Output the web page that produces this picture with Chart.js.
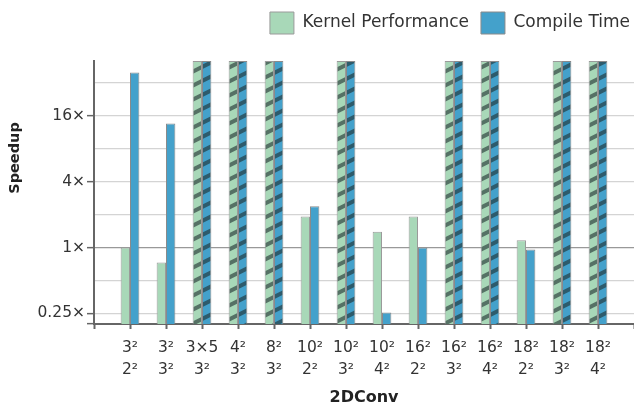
<!DOCTYPE html>
<html>
<head>
<meta charset="utf-8">
<script src="https://cdn.jsdelivr.net/npm/chart.js@4"></script>
<style>
  html, body { margin: 0; padding: 0; background: #fff; }
  #wrap { width: 634px; height: 405px; }
</style>
</head>
<body>
<div id="wrap"><canvas id="speedupChart"></canvas></div>
<script>
// kernel shapes (input / filter)
var categories = [
    ['3²', '2²'], ['3²', '3²'], ['3×5', '3²'], ['4²', '3²'], ['8²', '3²'],
    ['10²', '2²'], ['10²', '3²'], ['10²', '4²'], ['16²', '2²'], ['16²', '3²'],
    ['16²', '4²'], ['18²', '2²'], ['18²', '3²'], ['18²', '4²']
];
// null = off the top of the chart (hatched bars)
var kernelPerf  = [1.0, 0.73, null, null, null, 1.93, null, 1.40, 1.93, null, null, 1.17, null, null];
var compileTime = [40, 13.7, null, null, null, 2.39, null, 0.255, 1.0, null, null, 0.96, null, null];
var offChart    = [false, false, true, true, true, false, true, false, false, true, true, false, true, true];

var yTickValues = [0.2, 0.25, 0.5, 1, 2, 4, 8, 16, 32];
var yTickLabels = ['', '0.25×', '', '1×', '', '4×', '', '16×', ''];
var Y_MIN = 0.2, Y_MAX = 51;

var FONT = 'DejaVu Sans';

function makeHatch(color) {
    var c = document.createElement('canvas');
    c.width = 28; c.height = 14;
    var g = c.getContext('2d');
    g.fillStyle = color;
    g.fillRect(0, 0, 28, 14);
    g.strokeStyle = 'rgba(30, 45, 45, 0.6)';
    g.lineWidth = 4;
    for (var k = -1; k <= 2; k++) {
        g.beginPath();
        g.moveTo(-2, 14 * k + 1 + 14);
        g.lineTo(30, 14 * k - 15 + 14);
        g.stroke();
    }
    return g.createPattern(c, 'repeat');
}

// empty slot at both ends so the groups sit away from the axis ends
function pad(arr) { return [null].concat(arr, [null]); }
var labels = [''].concat(categories, ['']);
var kernelDrawn = pad(kernelPerf.map(function (v, i) { return offChart[i] ? Y_MAX : v; }));
var compileDrawn = pad(compileTime.map(function (v, i) { return offChart[i] ? Y_MAX : v; }));
var offPadded = pad(offChart);

var green = '#a8d8b8', blue = '#44a1cb';
var greenHatch = makeHatch(green), blueHatch = makeHatch(blue);

var yTitlePlugin = {
    id: 'yTitle',
    afterInit: function (chart) {
        var lg = chart.legend;
        var fit = lg.fit;
        lg.fit = function () { fit.call(this); this.height += 17; };
    },
    afterLayout: function (chart) {
        chart.legend.right = chart.width + 8;
    },
    afterDraw: function (chart) {
        var ctx = chart.ctx;
        ctx.save();
        ctx.translate(15, 158);
        ctx.rotate(-Math.PI / 2);
        ctx.font = 'bold 14.5px "' + FONT + '"';
        ctx.fillStyle = '#222';
        ctx.textAlign = 'center';
        ctx.textBaseline = 'middle';
        ctx.fillText('Speedup', 0, 0);
        ctx.restore();
    }
};

var ctx = document.getElementById('speedupChart');
var speedupChart = new Chart(ctx, {
    type: 'bar',
    data: {
        labels: labels,
        datasets: [
            {
                label: 'Kernel Performance',
                data: kernelDrawn,
                backgroundColor: function (c) { return offPadded[c.dataIndex] ? greenHatch : green; },
                borderColor: '#9a9a9a',
                borderWidth: 1
            },
            {
                label: 'Compile Time',
                data: compileDrawn,
                backgroundColor: function (c) { return offPadded[c.dataIndex] ? blueHatch : blue; },
                borderColor: '#8a8a8a',
                borderWidth: 1
            }
        ]
    },
    options: {
        responsive: true,
        maintainAspectRatio: false,
        animation: false,
        layout: { padding: 0 },
        datasets: { bar: { categoryPercentage: 0.52, barPercentage: 1.0 } },
        plugins: {
            legend: {
                position: 'top',
                align: 'end',
                labels: {
                    boxWidth: 24,
                    boxHeight: 22,
                    padding: 12,
                    color: '#333',
                    font: { family: FONT, size: 17 }
                }
            },
            tooltip: { enabled: false }
        },
        scales: {
            x: {
                offset: false,
                grid: {
                    offset: false,
                    drawOnChartArea: false,
                    drawTicks: true,
                    tickLength: 5,
                    tickColor: '#666',
                    tickWidth: 2
                },
                border: { color: '#666', width: 2 },
                ticks: {
                    color: '#333',
                    font: { family: FONT, size: 15.5, lineHeight: 1.42 },
                    padding: 8,
                    maxRotation: 0,
                    autoSkip: false
                },
                title: {
                    display: true,
                    text: '2DConv',
                    color: '#222',
                    font: { family: FONT, size: 16, weight: 'bold', lineHeight: 1 },
                    padding: { top: 4, bottom: -1 }
                },
                afterFit: function (scale) {
                    scale.height = 81;
                    scale.paddingLeft = 0;
                    scale.paddingRight = 0;
                }
            },
            y: {
                type: 'logarithmic',
                min: Y_MIN,
                max: Y_MAX,
                afterBuildTicks: function (scale) {
                    scale.ticks = yTickValues.map(function (v) { return { value: v }; });
                },
                grid: {
                    color: function (c) { return c.tick && c.tick.value === 1 ? '#999' : '#d4d4d4'; },
                    lineWidth: 1.3,
                    tickLength: 7,
                    tickColor: function (c) { return yTickLabels[c.index] || c.index === 0 ? '#666' : 'rgba(0,0,0,0)'; },
                    tickWidth: 1.5
                },
                border: { color: '#666', width: 2 },
                ticks: {
                    color: '#333',
                    font: { family: FONT, size: 15.5 },
                    padding: 2,
                    autoSkip: false,
                    callback: function (value, index) { return yTickLabels[index]; }
                },
                afterFit: function (scale) { scale.width = 94; }
            }
        }
    },
    plugins: [yTitlePlugin]
});
</script>
</body>
</html>
